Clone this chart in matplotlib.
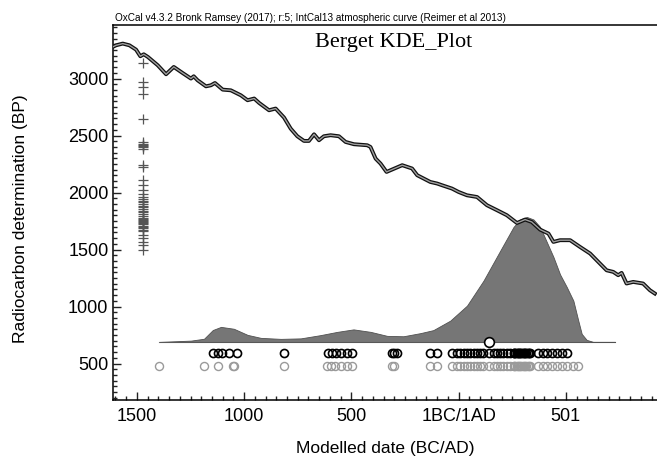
import numpy as np
import matplotlib
matplotlib.use("Agg")
import matplotlib.pyplot as plt
from matplotlib.ticker import MultipleLocator, FixedLocator, FixedFormatter

# IntCal13 curve (cal year, BC negative / radiocarbon BP)
curve_year = [-1610, -1597, -1566, -1535, -1504, -1484, -1468, -1449, -1403, -1364,
              -1328, -1287, -1248, -1235, -1217, -1178, -1155, -1136, -1100, -1062,
              -1015, -984, -953, -930, -884, -853, -814, -783, -752, -721,
              -698, -674, -651, -628, -597, -558, -527, -488, -426, -411,
              -387, -364, -336, -310, -263, -217, -193, -163, -132, -100,
              -77, -31, 0, 39, 86, 132, 179, 225, 272, 310,
              341, 380, 419, 442, 473, 520, 566, 613, 659, 690,
              721, 744, 760, 783, 814, 860, 892, 915]
curve_bp = [3280, 3292, 3307, 3292, 3254, 3196, 3213, 3190, 3117, 3038,
            3102, 3049, 3000, 3020, 2985, 2932, 2941, 2961, 2903, 2897,
            2853, 2810, 2825, 2786, 2722, 2737, 2658, 2561, 2494, 2453,
            2453, 2511, 2459, 2494, 2503, 2494, 2444, 2424, 2415, 2400,
            2298, 2254, 2181, 2202, 2240, 2211, 2152, 2123, 2093, 2079,
            2064, 2035, 2005, 1976, 1961, 1889, 1845, 1801, 1733, 1763,
            1742, 1675, 1640, 1567, 1582, 1582, 1523, 1465, 1377, 1318,
            1304, 1275, 1295, 1202, 1216, 1202, 1143, 1114]

# radiocarbon determinations (BP), shown as crosses
c14_dates = [3140, 2970, 2926, 2868, 2649, 2440, 2430, 2420, 2410, 2400,
             2386, 2240, 2225, 2108, 2064, 2020, 1991, 1962, 1945, 1930,
             1915, 1900, 1885, 1870, 1855, 1840, 1825, 1810, 1795, 1780,
             1770, 1760, 1750, 1740, 1730, 1720, 1710, 1700, 1690, 1675,
             1660, 1626, 1597, 1567, 1538, 1494]

# KDE of the modelled dates (relative density)
kde_year = [-1395, -1248, -1187, -1146, -1108, -1048, -984, -922, -829, -736,
            -644, -566, -490, -410, -333, -257, -178, -118, -39, 39,
            116, 194, 256, 287, 318, 349, 380, 411, 442, 473,
            504, 535, 558, 574, 597, 627, 729]
kde_dens = [0.0, 0.01, 0.025, 0.095, 0.12, 0.105, 0.056, 0.032, 0.024, 0.028,
            0.054, 0.08, 0.10, 0.08, 0.048, 0.045, 0.07, 0.094, 0.17, 0.29,
            0.49, 0.73, 0.92, 0.98, 1.0, 0.98, 0.92, 0.80, 0.68, 0.54,
            0.44, 0.33, 0.17, 0.064, 0.016, 0.0, 0.0]
kde_median = 140

# modelled (black) and unmodelled (grey) dates
modelled = [-1147, -1124, -1101, -1070, -1034, -814, -610, -590, -570, -550,
            -520, -495, -312, -300, -288, -132, -100, -31, -8, 8,
            23, 39, 54, 70, 86, 101, 116, 140, 163, 179,
            194, 209, 225, 240, 256, 260, 265, 270, 275, 280,
            286, 292, 298, 304, 310, 316, 322, 328, 334, 372,
            395, 411, 434, 458, 481, 504]
unmodelled = [-1395, -1186, -1124, -1054, -1047, -814, -612, -595, -575, -550,
              -520, -495, -312, -300, -132, -100, -31, -8, 8, 23,
              39, 54, 70, 86, 101, 116, 140, 163, 179, 194,
              209, 225, 240, 256, 260, 265, 270, 275, 280, 286,
              292, 298, 304, 310, 316, 322, 328, 334, 372, 395,
              411, 434, 458, 481, 504, 535, 558]

x_ticks = [-1500, -1000, -500, 0, 500]
x_labels = ["1500", "1000", "500", "1BC/1AD", "501"]

plt.rcParams["font.family"] = ["Liberation Sans", "DejaVu Sans"]

fig = plt.figure(figsize=(6.57, 4.57), dpi=100)
ax_h = 400 - 25
ax_w = 657 - 113.3
ax = fig.add_axes([113.3 / 657, 57 / 457, ax_w / 657, ax_h / 457])

# calibration curve: black outline with grey core
ax.plot(curve_year, curve_bp, color="#111111", lw=2.8, solid_joinstyle="round", zorder=3)
ax.plot(curve_year, curve_bp, color="#a0a0a0", lw=1.0, solid_joinstyle="round", zorder=4)

# kde distribution
base = 690
height = 1096
kde_top = base + height * np.array(kde_dens)
ax.plot([kde_year[0], kde_year[-1]], [base, base], color="#777777", lw=0.8, zorder=1)
ax.fill_between(kde_year, base, kde_top, color="#767676", edgecolor="#505050",
                lw=0.6, zorder=2)
ax.plot([kde_median], [base], marker="o", ms=7, mfc="white", mec="black", mew=1.2,
        zorder=6)

# c14 determinations
ax.plot([-1470] * len(c14_dates), c14_dates, ls="none", marker="+", ms=7.5,
        mew=0.9, color="#555555", zorder=3)

# date rows
ax.plot(unmodelled, [477] * len(unmodelled), ls="none", marker="o", ms=5.8,
        mfc="none", mec="#9a9a9a", mew=1.0, zorder=3)
ax.plot(modelled, [588] * len(modelled), ls="none", marker="o", ms=5.8,
        mfc="none", mec="black", mew=1.2, zorder=3)

ax.set_xlim(-1610, 925)
ax.set_ylim(180, 3470)

ax.xaxis.set_major_locator(FixedLocator(x_ticks))
ax.xaxis.set_major_formatter(FixedFormatter(x_labels))
ax.xaxis.set_minor_locator(MultipleLocator(50))
ax.yaxis.set_minor_locator(MultipleLocator(50))
ax.set_yticks([500, 1000, 1500, 2000, 2500, 3000])

ax.tick_params(which="both", direction="in", top=False, right=False, width=1.0,
               labelsize=13, color="#222222")
ax.tick_params(which="major", length=6)
ax.tick_params(which="minor", length=3)
ax.tick_params(axis="x", pad=6)

for side in ["left", "bottom", "top"]:
    ax.spines[side].set_linewidth(1.1)
ax.spines["right"].set_visible(False)

ax.set_xlabel("Modelled date (BC/AD)", fontsize=12.5)
ax.xaxis.set_label_coords(0.5, (400 - 441) / ax_h)
ax.set_ylabel("Radiocarbon determination (BP)", fontsize=12.5)
ax.yaxis.set_label_coords((28 - 113.3) / ax_w, (400 - 219) / ax_h)

ax.text(0.003, 1.006, "OxCal v4.3.2 Bronk Ramsey (2017); r:5; IntCal13 atmospheric curve (Reimer et al 2013)",
        transform=ax.transAxes, fontsize=7.2, va="bottom", ha="left")
fig.text(394 / 657, 1 - 42 / 457, "Berget KDE_Plot", ha="center", va="center",
         family="Liberation Serif", fontsize=16)

fig.savefig("out.png", dpi=100)
